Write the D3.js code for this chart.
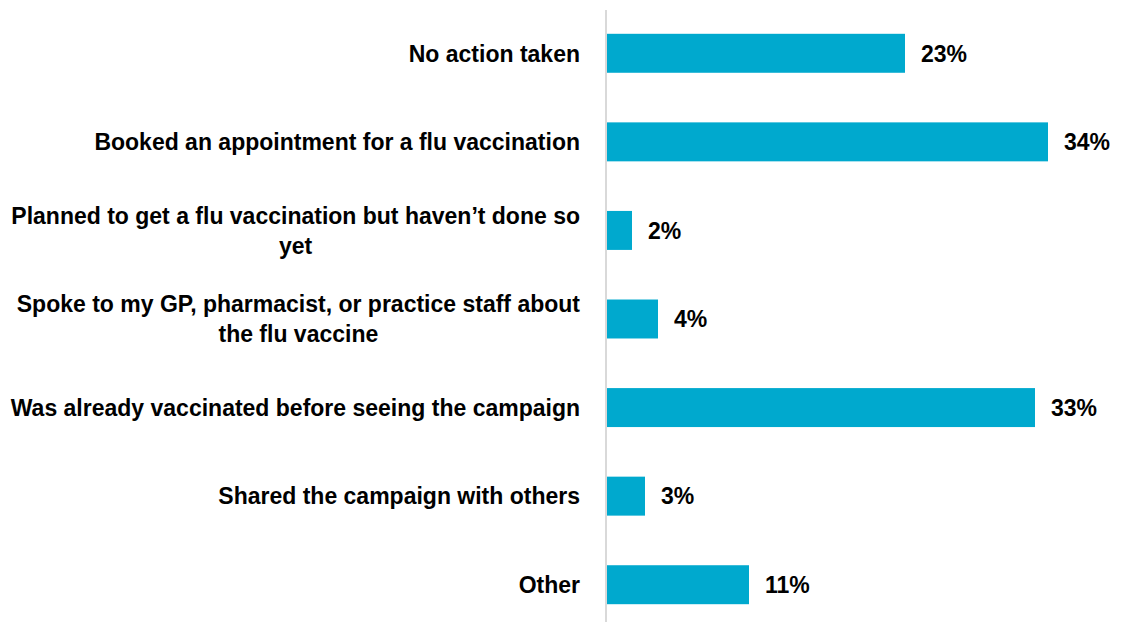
<!DOCTYPE html>
<html>
<head>
<meta charset="utf-8">
<script src="https://cdn.jsdelivr.net/npm/d3@7"></script>
<style>
  html, body { margin: 0; padding: 0; background: #fff; }
  svg { display: block; }
</style>
</head>
<body>
<svg id="chart" width="1125" height="622"></svg>
<script>
// Survey responses: action taken after seeing the campaign
const categories = [
  ["No action taken"],
  ["Booked an appointment for a flu vaccination"],
  ["Planned to get a flu vaccination but haven\u2019t done so", "yet"],
  ["Spoke to my GP, pharmacist, or practice staff about", "the flu vaccine"],
  ["Was already vaccinated before seeing the campaign"],
  ["Shared the campaign with others"],
  ["Other"]
];
const values = [23, 34, 2, 4, 33, 3, 11];

const width = 1125, height = 622;
const axisX = 606;
const svg = d3.select("#chart");

const y = d3.scaleBand()
  .domain(d3.range(categories.length))
  .range([9, 629])
  .paddingInner(0.56)
  .paddingOuter(0.28);

const x = d3.scaleLinear().domain([0, 1]).range([axisX, axisX + 1300]);

// bars
svg.append("g").selectAll("rect")
  .data(values)
  .join("rect")
  .attr("x", x(0))
  .attr("y", (d, i) => y(i))
  .attr("width", d => x(d / 100) - x(0))
  .attr("height", y.bandwidth())
  .attr("fill", "#00a9ce");

// value labels
svg.append("g").selectAll("text")
  .data(values)
  .join("text")
  .attr("x", d => x(d / 100) + 16)
  .attr("y", (d, i) => y(i) + y.bandwidth() / 2)
  .attr("dy", "0.36em")
  .attr("font-family", "'Liberation Sans', Arial, sans-serif")
  .attr("font-weight", "bold")
  .attr("font-size", 23)
  .attr("fill", "#000")
  .text(d => d3.format(".0%")(d / 100));

// category labels (multi-line blocks are centred on their widest line)
const labelG = svg.append("g")
  .attr("font-family", "'Liberation Sans', Arial, sans-serif")
  .attr("font-weight", "bold")
  .attr("font-size", 23)
  .attr("fill", "#000");

const lineH = 30;
categories.forEach((lines, i) => {
  const cy = y(i) + y.bandwidth() / 2;
  const t = labelG.append("text")
    .attr("y", cy - (lines.length - 1) * lineH / 2);
  lines.forEach((ln, j) => {
    t.append("tspan").attr("x", 0).attr("dy", j === 0 ? "0.36em" : lineH).text(ln);
  });
  // measure widest line, right-align the block at 580, centre each line
  const spans = t.selectAll("tspan").nodes();
  const maxW = d3.max(spans, s => s.getComputedTextLength());
  const centre = 580 - maxW / 2;
  t.attr("text-anchor", "middle");
  spans.forEach(s => d3.select(s).attr("x", centre));
});

// category axis line
svg.append("line")
  .attr("x1", axisX).attr("x2", axisX)
  .attr("y1", 10).attr("y2", height)
  .attr("stroke", "#d9d9d9")
  .attr("stroke-width", 2);
</script>
</body>
</html>
